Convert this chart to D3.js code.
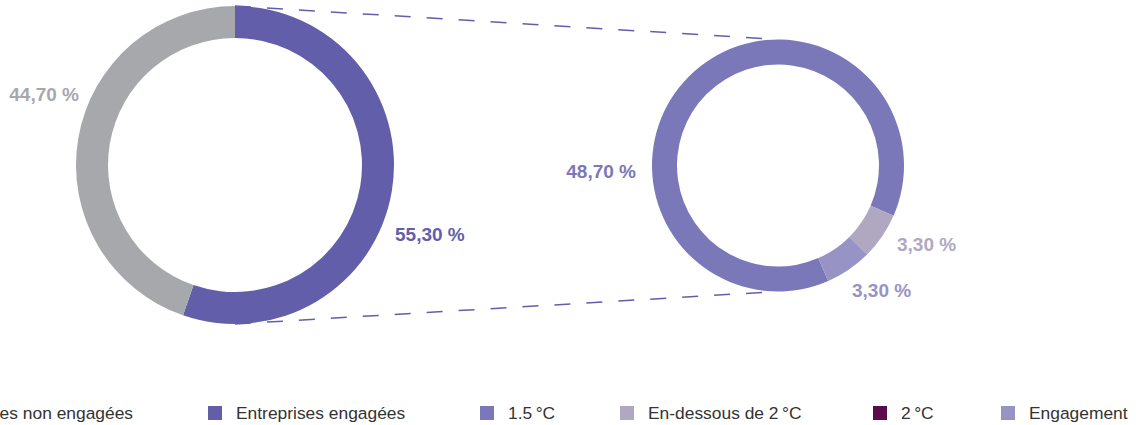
<!DOCTYPE html>
<html>
<head>
<meta charset="utf-8">
<script src="https://cdn.jsdelivr.net/npm/d3@7"></script>
<style>
  html, body { margin: 0; padding: 0; background: #fff; }
  svg { display: block; font-family: "Liberation Sans", Arial, Helvetica, sans-serif; }
</style>
</head>
<body>
<svg id="chart" width="1136" height="425"></svg>
<script>
// ---- data ----
const mainCategories = ["Entreprises engagées", "Entreprises non engagées"];
const mainValues = [55.3, 44.7];
const mainColors = ["#635eaa", "#a7a8ab"];

const subCategories = ["1.5\u202F°C", "En-dessous de 2\u202F°C", "2\u202F°C", "Engagement"];
const subValues = [48.7, 3.3, 0, 3.3];
const subColors = ["#7a78b9", "#b0a8c0", "#5c0a4e", "#9893c5"];

const legendLabels = ["Entreprises non engagées", "Entreprises engagées", "1.5\u202F°C", "En-dessous de 2\u202F°C", "2\u202F°C", "Engagement"];
const legendColors = ["#a7a8ab", "#635eaa", "#7a78b9", "#b0a8c0", "#5c0a4e", "#9893c5"];

const fmt = v => d3.format(".2f")(v).replace(".", ",") + " %";

// ---- layout ----
const svg = d3.select("#chart");
const main = { cx: 235, cy: 165, r: 159, inner: 127 };
const sub = { cx: 778, cy: 165.5, r: 126, inner: 101 };
const subStart = (156.5 - 360) * Math.PI / 180;

// connector lines
const lines = svg.append("g");
[[main.cy - main.r, sub.cy - sub.r], [main.cy + main.r, sub.cy + sub.r]].forEach(([y1, y2]) => {
  lines.append("line")
    .attr("x1", main.cx).attr("y1", y1)
    .attr("x2", sub.cx).attr("y2", y2)
    .attr("stroke", "#635eaa").attr("stroke-width", 1.5)
    .attr("stroke-dasharray", "16,16");
});

// main donut
const mainPie = d3.pie().sort(null).value(d => d)(mainValues);
const mainArc = d3.arc().innerRadius(main.inner).outerRadius(main.r);
const gMain = svg.append("g").attr("transform", `translate(${main.cx},${main.cy})`);
gMain.selectAll("path").data(mainPie).join("path")
  .attr("d", mainArc).attr("fill", (d, i) => mainColors[i]);

// sub donut
const subPie = d3.pie().sort(null).value(d => d)
  .startAngle(subStart).endAngle(subStart + 2 * Math.PI)(subValues);
const subArc = d3.arc().innerRadius(sub.inner).outerRadius(sub.r);
const gSub = svg.append("g").attr("transform", `translate(${sub.cx},${sub.cy})`);
gSub.selectAll("path").data(subPie.filter(d => d.value > 0)).join("path")
  .attr("d", subArc).attr("fill", d => subColors[d.index]);

// labels (offsets relative to donut centres)
const mainLabelPos = [{ dx: 160, dy: 76, anchor: "start" }, { dx: -156, dy: -64, anchor: "end" }];
mainValues.forEach((v, i) => {
  gMain.append("text").attr("x", mainLabelPos[i].dx).attr("y", mainLabelPos[i].dy)
    .attr("text-anchor", mainLabelPos[i].anchor)
    .attr("font-size", 19).attr("font-weight", "bold")
    .attr("fill", mainColors[i]).text(fmt(v));
});
const subLabelPos = [{ dx: -142, dy: 12, anchor: "end" }, { dx: 119, dy: 85.5, anchor: "start" }, null, { dx: 74, dy: 131.5, anchor: "start" }];
subValues.forEach((v, i) => {
  if (!v) return;
  gSub.append("text").attr("x", subLabelPos[i].dx).attr("y", subLabelPos[i].dy)
    .attr("text-anchor", subLabelPos[i].anchor)
    .attr("font-size", 19).attr("font-weight", "bold")
    .attr("fill", subColors[i]).text(fmt(v));
});

// legend
const legendX = [-98, 208, 480, 620, 873, 1001];
const legendY = 406;
const gLeg = svg.append("g");
legendLabels.forEach((lab, i) => {
  gLeg.append("rect").attr("x", legendX[i]).attr("y", legendY).attr("width", 14).attr("height", 14)
    .attr("fill", legendColors[i]);
  gLeg.append("text").attr("x", legendX[i] + 28).attr("y", legendY + 13)
    .attr("font-size", 17.4).attr("fill", "#333").text(lab);
});
</script>
</body>
</html>
